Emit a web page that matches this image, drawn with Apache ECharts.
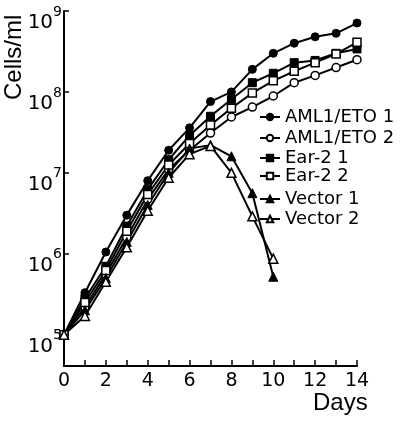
<!DOCTYPE html>
<html><head><meta charset="utf-8">
<script src="https://cdn.jsdelivr.net/npm/echarts@6/dist/echarts.min.js"></script>
<style>html,body{margin:0;padding:0;background:#fff}#c{width:400px;height:425px}</style>
</head><body><div id="c"></div>
<script>
var days = [0,1,2,3,4,5,6,7,8,9,10,11,12,13,14];
var vectorDays = [0,1,2,3,4,5,6,7,8,9,10];
var aml1 = [1.0e5,3.3e5,1.05e6,3.0e6,8.0e6,1.9e7,3.6e7,7.6e7,1.0e8,1.9e8,3.0e8,4.0e8,4.8e8,5.3e8,7.1e8];
var aml2 = [1.0e5,2.2e5,5.6e5,1.6e6,4.7e6,1.1e7,1.9e7,3.1e7,4.9e7,6.5e7,8.9e7,1.3e8,1.6e8,2.0e8,2.5e8];
var ear1 = [1.0e5,2.8e5,7.0e5,2.2e6,6.2e6,1.45e7,2.9e7,5.0e7,8.1e7,1.3e8,1.7e8,2.3e8,2.45e8,3.0e8,3.4e8];
var ear2 = [1.0e5,2.5e5,6.2e5,1.9e6,5.4e6,1.25e7,2.3e7,3.9e7,6.3e7,9.7e7,1.37e8,1.8e8,2.3e8,2.95e8,4.1e8];
var vec1 = [1.0e5,2.0e5,5.0e5,1.4e6,4.0e6,1.0e7,2.0e7,2.2e7,1.6e7,5.6e6,5.2e5];
var vec2 = [1.0e5,1.7e5,4.5e5,1.2e6,3.4e6,8.7e6,1.7e7,2.15e7,1.0e7,2.9e6,8.7e5];
var seriesNames = ['AML1/ETO 1','AML1/ETO 2','Ear-2 1','Ear-2 2','Vector 1','Vector 2'];
var yTickExps = [5,6,7,8,9];
var xTickLabels = [0,2,4,6,8,10,12,14];

function pairs(xs, ys){ return ys.map(function(v,i){ return [xs[i], v]; }); }
var filled = {color:'#000', borderColor:'#000', borderWidth:1};
var open = {color:'#fff', borderColor:'#000', borderWidth:1.5};
function mk(name, xs, ys, sym, size, style){
  return {name:name, type:'line', data:pairs(xs,ys), symbol:sym, symbolSize:size,
    lineStyle:{color:'#000', width:2}, itemStyle:style, showSymbol:true, animation:false,
    emphasis:{disabled:true}};
}
var chart = echarts.init(document.getElementById('c'));
var legendBase = {orient:'vertical', left:259, padding:0, itemWidth:20, itemHeight:8, itemGap:3,
  textStyle:{fontFamily:'DejaVu Sans', fontSize:18, color:'#000', lineHeight:17}, selectedMode:false};
chart.setOption({
  backgroundColor:'#fff',
  animation:false,
  grid:{left:64, right:43, top:11, bottom:59, containLabel:false},
  legend:[
    Object.assign({}, legendBase, {top:108, itemGap:3, data:[seriesNames[0], seriesNames[1]]}),
    Object.assign({}, legendBase, {top:149, itemGap:0, data:[seriesNames[2], seriesNames[3]]}),
    Object.assign({}, legendBase, {top:190, itemGap:2, data:[seriesNames[4], seriesNames[5]]})
  ],
  xAxis:{type:'value', min:0, max:14, interval:1,
    axisLine:{lineStyle:{color:'#000', width:2}},
    axisTick:{inside:true, length:6, lineStyle:{color:'#000', width:1.5}},
    splitLine:{show:false},
    axisLabel:{color:'#000', fontFamily:'DejaVu Sans', fontSize:19, margin:6,
      formatter:function(v){ return xTickLabels.indexOf(v) >= 0 ? String(v) : ''; }}
  },
  yAxis:{type:'log', logBase:10, min:4.1e4, max:1e9,
    axisLine:{show:true, lineStyle:{color:'#000', width:2}},
    axisTick:{inside:true, length:5, lineStyle:{color:'#000', width:1.5}},
    splitLine:{show:false},
    axisLabel:{color:'#000', margin:2, padding:[14,0,0,0],
      formatter:function(v){
        var e = Math.round(Math.log10(v));
        if (Math.abs(Math.log10(v)-e) > 1e-6 || yTickExps.indexOf(e) < 0) return '';
        return '{b|10}{e|' + e + '}';
      },
      rich:{
        b:{fontFamily:'DejaVu Sans', fontSize:20, color:'#000', verticalAlign:'bottom', lineHeight:30},
        e:{fontFamily:'DejaVu Sans', fontSize:14, color:'#000', verticalAlign:'top', lineHeight:14, padding:[2,0,0,0]}
      }
    }
  },
  graphic:[
    {type:'text', rotation:Math.PI/2, style:{text:'Cells/ml', fontFamily:'Liberation Sans', fontSize:24, fill:'#000'},
      x:2, y:100},
    {type:'text', left:313, top:391, style:{text:'Days', fontFamily:'Liberation Sans', fontSize:24, fill:'#000'}}
  ],
  series:[
    mk(seriesNames[0], days, aml1, 'circle', 8, filled),
    mk(seriesNames[1], days, aml2, 'circle', 8, open),
    mk(seriesNames[2], days, ear1, 'rect', 8, filled),
    mk(seriesNames[3], days, ear2, 'rect', 8, open),
    mk(seriesNames[4], vectorDays, vec1, 'triangle', 9, filled),
    mk(seriesNames[5], vectorDays, vec2, 'triangle', 9, open)
  ]
});
</script></body></html>
